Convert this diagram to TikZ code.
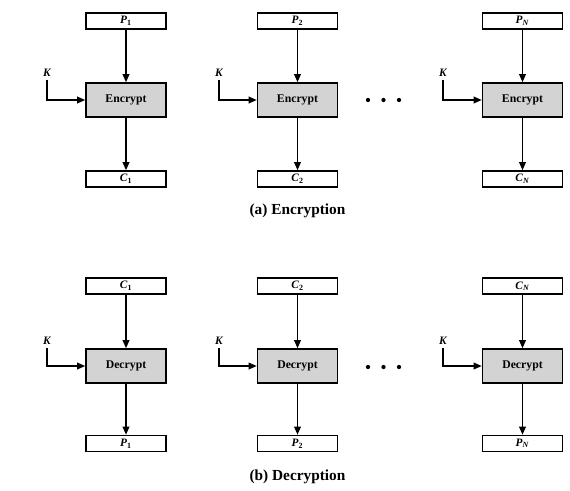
\documentclass[tikz,border=0pt]{standalone}
\usepackage{fontspec}
\setmainfont{Liberation Serif}
\usetikzlibrary{arrows.meta}
\definecolor{boxgray}{RGB}{211,211,211}
\newcommand{\lbl}[2]{\textbf{\textit{#1}}\textsubscript{\textbf{#2}}}
\begin{document}
\begin{tikzpicture}[x=0.75pt,y=-0.75pt,
  smallbox/.style={draw,line width=1.2pt,minimum width=60pt,minimum height=12pt,inner sep=0pt,font=\fontsize{8.5}{9}\selectfont},
  bigbox/.style={draw,line width=1.2pt,fill=boxgray,minimum width=60pt,minimum height=25.5pt,inner sep=0pt,font=\fontsize{8.8}{10}\selectfont\bfseries},
  conn/.style={line width=1pt,-{Triangle[length=6pt,width=5pt]}},
  klabel/.style={inner sep=0pt,font=\fontsize{8.5}{9}\selectfont\bfseries\itshape},
  caption/.style={font=\fontsize{11.5}{13}\selectfont\bfseries},
  dot/.style={circle,fill=black,inner sep=0pt,minimum size=3.2pt}]
\useasboundingbox (0,0) rectangle (570,490);
% ---------- Encryption ----------
\foreach \cx/\kx/\i/\pin/\cout in {126/47/a/\lbl{P}{1}/\lbl{C}{1},297.5/219/b/\lbl{P}{2}/\lbl{C}{2},522.5/443/c/\lbl{P}{\textit{N}}/\lbl{C}{\textit{N}}}{
  \node[smallbox] (ein\i) at (\cx,21) {\pin};
  \node[bigbox] (enc\i) at (\cx,100) {Encrypt};
  \node[smallbox] (eout\i) at (\cx,179) {\cout};
  \node[klabel] (ek\i) at (\kx,73) {K};
  \draw[conn] (ein\i) -- (enc\i);
  \draw[conn] (enc\i) -- (eout\i);
  \draw[conn] (ek\i.south) ++(0,3) |- (enc\i.west);
}
\node[dot] (ed1) at (368,100) {};
\node[dot] (ed2) at (383.5,100) {};
\node[dot] (ed3) at (399,100) {};
\node[caption] (capa) at (297.5,211) {(a) Encryption};
% ---------- Decryption ----------
\foreach \cx/\kx/\i/\pin/\cout in {126/47/a/\lbl{C}{1}/\lbl{P}{1},297.5/219/b/\lbl{C}{2}/\lbl{P}{2},522.5/443/c/\lbl{C}{\textit{N}}/\lbl{P}{\textit{N}}}{
  \node[smallbox] (din\i) at (\cx,286) {\pin};
  \node[bigbox] (dec\i) at (\cx,366) {Decrypt};
  \node[smallbox] (dout\i) at (\cx,443.5) {\cout};
  \node[klabel] (dk\i) at (\kx,341) {K};
  \draw[conn] (din\i) -- (dec\i);
  \draw[conn] (dec\i) -- (dout\i);
  \draw[conn] (dk\i.south) ++(0,3) |- (dec\i.west);
}
\node[dot] (dd1) at (368,367) {};
\node[dot] (dd2) at (383.5,367) {};
\node[dot] (dd3) at (399,367) {};
\node[caption] (capb) at (297.5,477) {(b) Decryption};
\end{tikzpicture}
\end{document}
